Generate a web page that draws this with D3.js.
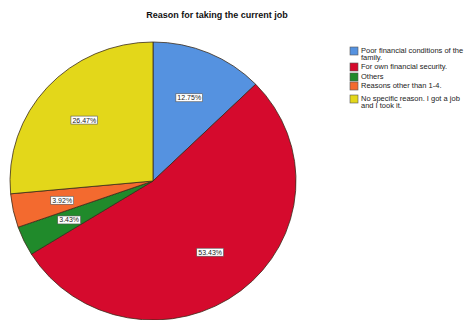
<!DOCTYPE html>
<html>
<head>
<meta charset="utf-8">
<script src="https://cdn.jsdelivr.net/npm/d3@7"></script>
<style>
body { margin: 0; background: #fff; }
text { font-family: "Liberation Sans", Arial, sans-serif; }
</style>
</head>
<body>
<div class="pie-chart"></div>
<script>
const categories = [
	['Poor financial conditions of the', 'family.'],
	['For own financial security.'],
	['Others'],
	['Reasons other than 1-4.'],
	['No specific reason. I got a job', 'and I took it.']
];
const values = [12.75, 53.43, 3.43, 3.92, 26.47];
const labels = ['12.75%', '53.43%', '3.43%', '3.92%', '26.47%'];
const colors = ['#5592e0', '#d50a2d', '#208a2b', '#f36a2f', '#e3d71a'];

const data = values.map((v, i) => ({name: categories[i], value: v, label: labels[i], color: colors[i]}));

renderPie(data);

function renderPie(data) {
	const width = 473;
	const height = 320;
	const cx = 153, cy = 181;
	const rx = 143, ry = 139;

	const svg = d3.select('.pie-chart')
		.append('svg')
		.attr('width', width)
		.attr('height', height);

	svg.append('text')
		.attr('x', 217)
		.attr('y', 18)
		.attr('text-anchor', 'middle')
		.attr('font-size', '9px')
		.attr('font-weight', 'bold')
		.attr('fill', '#111')
		.text('Reason for taking the current job');

	const pie = d3.pie().sort(null).value(d => d.value);
	const arcs = pie(data);
	const arc = d3.arc().innerRadius(0).outerRadius(rx);

	// slightly squashed like the source picture
	const g = svg.append('g')
		.attr('transform', 'translate(' + cx + ',' + cy + ') scale(1,' + (ry / rx) + ')');

	g.selectAll('.slice')
		.data(arcs)
		.enter()
		.append('path')
		.attr('class', 'slice')
		.attr('d', arc)
		.attr('fill', d => d.data.color)
		.attr('stroke', '#3a2a1a')
		.attr('stroke-width', 0.8);

	const labelArc = d3.arc().innerRadius(rx * 0.65).outerRadius(rx * 0.65);
	const lg = svg.append('g')
		.attr('transform', 'translate(' + cx + ',' + cy + ')');

	const tags = lg.selectAll('.tag')
		.data(arcs)
		.enter()
		.append('g')
		.attr('class', 'tag')
		.attr('transform', d => {
			const c = labelArc.centroid(d);
			return 'translate(' + c[0] + ',' + (c[1] * ry / rx) + ')';
		});

	tags.append('text')
		.attr('text-anchor', 'middle')
		.attr('dy', '0.35em')
		.attr('font-size', '7px')
		.attr('fill', '#222')
		.text(d => d.data.label)
		.each(function () {
			const b = this.getBBox();
			d3.select(this.parentNode).insert('rect', 'text')
				.attr('x', b.x - 1.5)
				.attr('y', b.y - 0.5)
				.attr('width', b.width + 3)
				.attr('height', b.height + 1)
				.attr('fill', '#fff')
				.attr('stroke', '#555')
				.attr('stroke-width', 0.6);
		});

	// legend
	const legend = svg.append('g').attr('transform', 'translate(350,0)');
	const rowY = [47, 63, 73, 82, 95];
	const items = legend.selectAll('.item')
		.data(data)
		.enter()
		.append('g')
		.attr('class', 'item')
		.attr('transform', (d, i) => 'translate(0,' + rowY[i] + ')');

	items.append('rect')
		.attr('width', 8)
		.attr('height', 8)
		.attr('fill', d => d.color)
		.attr('stroke', '#555')
		.attr('stroke-width', 0.6);

	items.append('text')
		.attr('x', 11)
		.attr('y', 5.5)
		.attr('font-size', '7.5px')
		.attr('fill', '#222')
		.selectAll('tspan')
		.data(d => d.name)
		.enter()
		.append('tspan')
		.attr('x', 11)
		.attr('dy', (d, i) => i === 0 ? 0 : '7.5')
		.text(d => d);
}
</script>
</body>
</html>
